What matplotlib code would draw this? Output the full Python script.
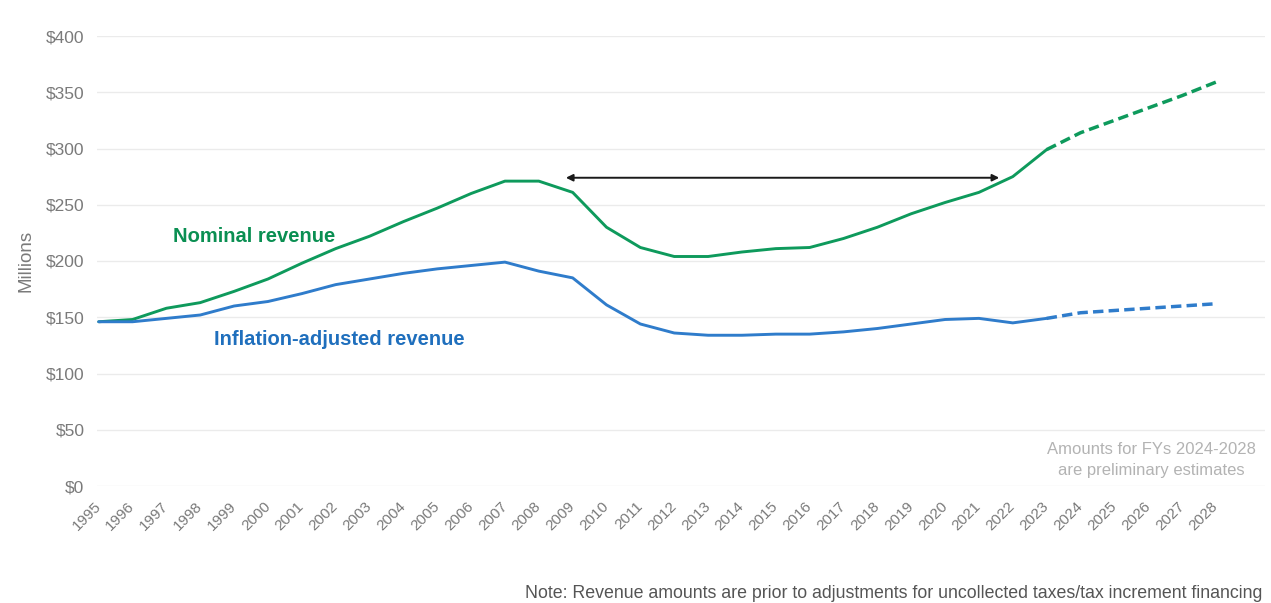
import matplotlib.pyplot as plt
from matplotlib.ticker import FuncFormatter

plt.rcParams['font.family'] = ['Liberation Sans', 'DejaVu Sans']

years = list(range(1995, 2029))
nominal = [146, 148, 158, 163, 173, 184, 198, 211, 222, 235, 247, 260, 271, 271,
           261, 230, 212, 204, 204, 208, 211, 212, 220, 230, 242, 252, 261, 275,
           299, 314, 325, 336, 347, 359]
adjusted = [146, 146, 149, 152, 160, 164, 171, 179, 184, 189, 193, 196, 199, 191,
            185, 161, 144, 136, 134, 134, 135, 135, 137, 140, 144, 148, 149, 145,
            149, 154, 156, 158, 160, 162]
last_actual = 2023
arrow_span = (2008.8, 2021.6)
arrow_level = 274

green = '#0e9a5c'
blue = '#2f7ccb'

fig = plt.figure(figsize=(12.71, 6.03), dpi=100)
ax = fig.add_axes([97 / 1271, 1 - 486 / 603, (1265 - 97) / 1271, 450 / 603])

cut = years.index(last_actual) + 1
ax.plot(years[:cut], nominal[:cut], color=green, lw=2.1, solid_capstyle='round')
ax.plot(years[cut - 1:], nominal[cut - 1:], color=green, lw=2.5, ls=(0, (3, 1.5)))
ax.plot(years[:cut], adjusted[:cut], color=blue, lw=2.1, solid_capstyle='round')
ax.plot(years[cut - 1:], adjusted[cut - 1:], color=blue, lw=2.5, ls=(0, (3, 1.5)))

ax.annotate('', xy=(arrow_span[0], arrow_level), xytext=(arrow_span[1], arrow_level),
            arrowprops=dict(arrowstyle='<|-|>', color='#1a1a1a', lw=1.4,
                            mutation_scale=10, shrinkA=0, shrinkB=0))

ax.text(1997.2, 222, 'Nominal revenue', color='#0a8f52', fontsize=14.5,
        fontweight='bold', va='center')
ax.text(1998.4, 130, 'Inflation-adjusted revenue', color='#1f6fbd', fontsize=14.5,
        fontweight='bold', va='center')
ax.text(2026.1, 23, 'Amounts for FYs 2024-2028\nare preliminary estimates',
        color='#b3b3b3', fontsize=12, ha='center', va='center', linespacing=1.5)

ax.set_xlim(1994.95, 2029.45)
ax.set_ylim(0, 400)
ax.set_yticks(range(0, 401, 50))
ax.yaxis.set_major_formatter(FuncFormatter(lambda v, p: f'${v:.0f}'))
ax.set_xticks(years)
ax.set_xticklabels([str(y) for y in years], rotation=45, ha='right', va='center',
                   rotation_mode='anchor')
ax.tick_params(axis='x', length=0, pad=13, labelsize=11, labelcolor='#7a7a7a')
ax.tick_params(axis='y', length=0, pad=9, labelsize=12.5, labelcolor='#7a7a7a')
ax.grid(axis='y', color='#ebebeb', lw=1)
ax.set_axisbelow(True)
for s in ax.spines.values():
    s.set_visible(False)
ax.set_ylabel('Millions', color='#7a7a7a', fontsize=13.5, labelpad=8)

fig.text(1262 / 1271, 1 - 593 / 603,
         'Note: Revenue amounts are prior to adjustments for uncollected taxes/tax increment financing',
         ha='right', va='center', fontsize=12.8, color='#555555')

fig.savefig('out.png', dpi=100)
